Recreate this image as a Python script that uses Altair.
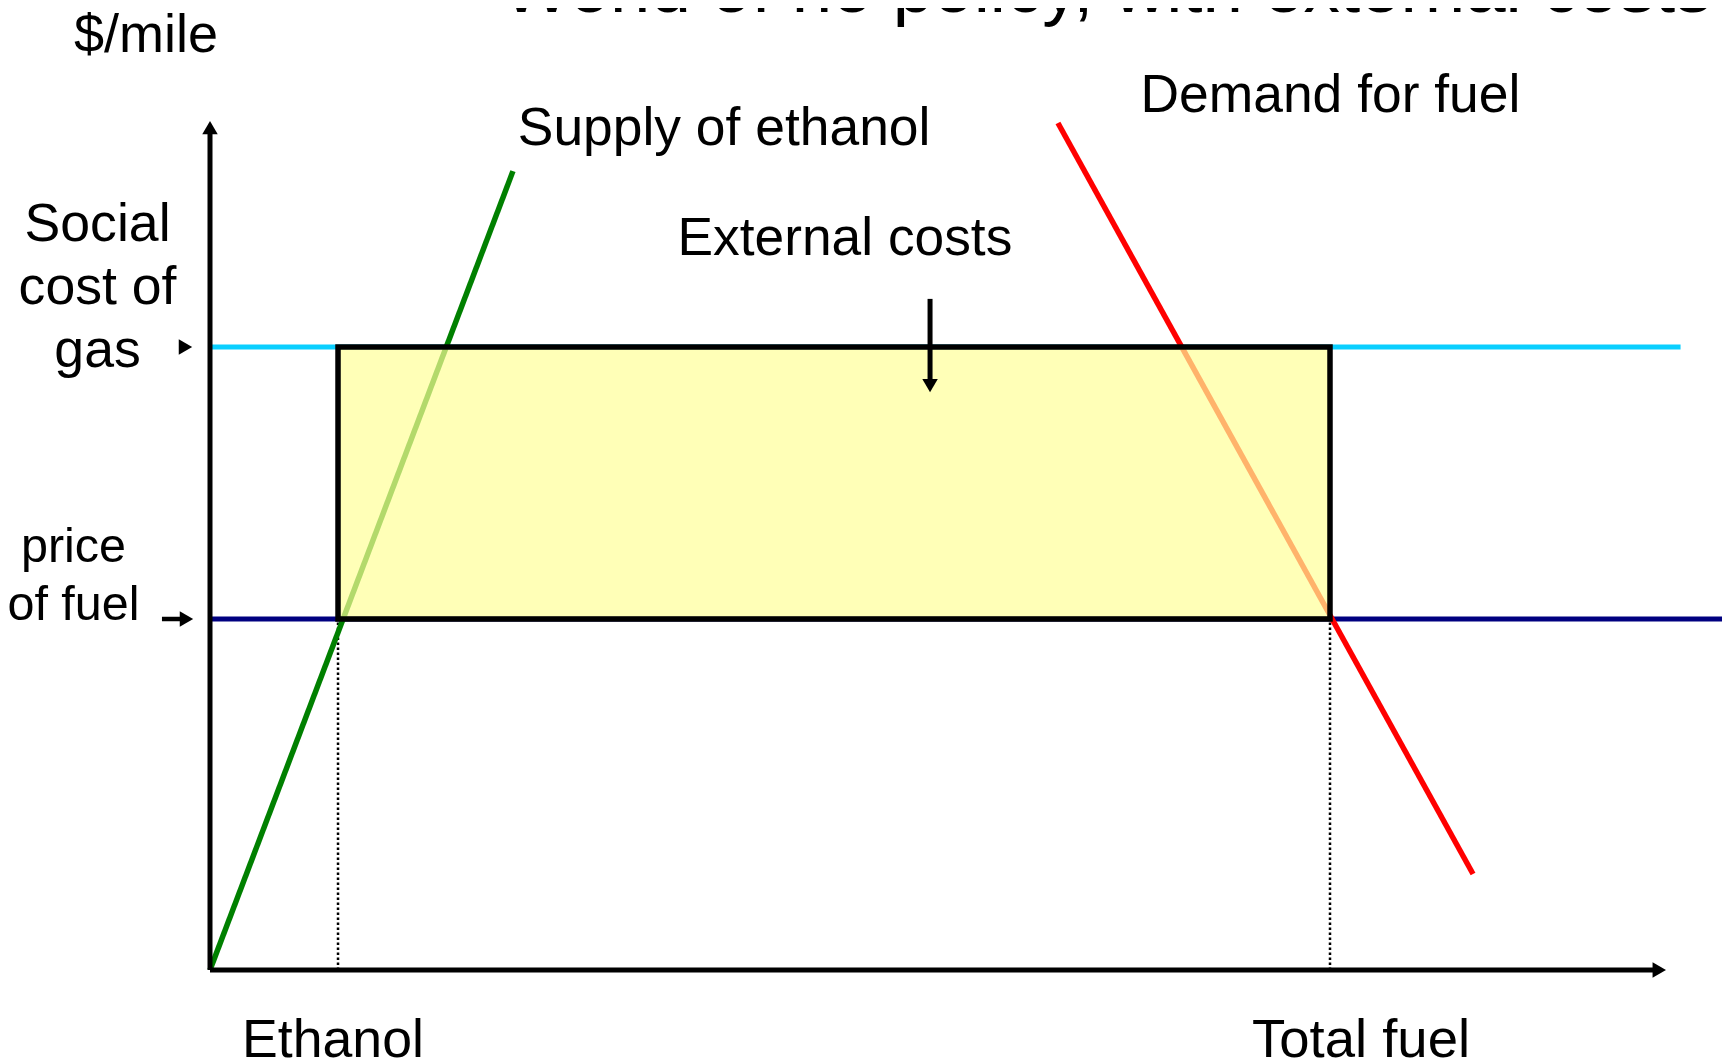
import altair as alt
import pandas as pd

# ---------------- data (in chart units) ----------------
# quantity units: total fuel = 100 ; price units: price of fuel = 1
ethanol_q = 11.43
total_q = 100.0
price_fuel = 1.0
social_cost = 1.775

supply_q = [0.0, 27.05]
supply_p = [0.0, 2.276]
demand_q = [75.71, 112.77]
demand_p = [2.413, 0.2735]

cyan_end_q = 131.3
navy_end_q = 140.0
y_axis_top = 2.40
x_axis_end = 129.4
ext_arrow_q = 64.29
ext_arrow_p = [1.912, 1.665]
price_arrow_q = [-4.29, -2.6]

label_text = ["$/mile", "Supply of ethanol", "Demand for fuel", "External costs",
              "Social", "cost of", "gas", "price", "of fuel", "Ethanol", "Total fuel",
              "World of no policy, with external costs"]
label_q = [-5.71, 27.48, 83.08, 56.69, -10.04, -10.04, -10.04, -12.19, -12.19, 10.98, 102.77, 26.1]
label_p = [2.615, 2.3504, 2.4444, 2.037, 2.0769, 1.8974, 1.7179, 1.1624, 0.9972, -0.2479, -0.2479, 2.7293]
label_size = [54, 53.4, 53.4, 53.3, 53.6, 53.6, 53.6, 48.5, 48.5, 53.6, 54.5, 72.7]
label_align = ["center", "left", "left", "center", "center", "center", "center",
               "center", "center", "center", "center", "left"]

# ---------------- scale setup ----------------
W, H = 1714, 1058
ORIGIN_X, ORIGIN_Y = 210, 970   # page position of the axes origin
PX_Q, PX_P = 11.2, 351.0        # pixels per unit
q_dom = [(8 - ORIGIN_X) / PX_Q, (8 + W - ORIGIN_X) / PX_Q]
p_dom = [(ORIGIN_Y - 8 - H) / PX_P, (ORIGIN_Y - 8) / PX_P]
xs = alt.Scale(domain=q_dom, nice=False, zero=False)
ys = alt.Scale(domain=p_dom, nice=False, zero=False)


def seg(q, q2, p, p2):
    return pd.DataFrame({"q": q, "q2": q2, "p": p, "p2": p2})


def rule(df, color, width, dash=None):
    kw = dict(color=color, strokeWidth=width)
    if dash:
        kw["strokeDash"] = dash
    return alt.Chart(df).mark_rule(**kw).encode(
        x=alt.X("q:Q", scale=xs, axis=None), x2="q2:Q",
        y=alt.Y("p:Q", scale=ys, axis=None), y2="p2:Q")


def arrowhead(q, p, shape):
    df = pd.DataFrame({"q": q, "p": p})
    return alt.Chart(df).mark_point(shape=shape, filled=True, size=240, color="black",
                                    opacity=1, strokeWidth=0).encode(
        x=alt.X("q:Q", scale=xs, axis=None), y=alt.Y("p:Q", scale=ys, axis=None))


cyan = rule(seg([0.0], [cyan_end_q], [social_cost], [social_cost]), "#0ACFFF", 5)
navy = rule(seg([0.0], [navy_end_q], [price_fuel], [price_fuel]), "#000080", 5)
dotted = rule(seg([ethanol_q, total_q], [ethanol_q, total_q], [0.0, 0.0],
                  [price_fuel, price_fuel]), "black", 2.5, [2.5, 2.5])
supply = rule(seg([supply_q[0]], [supply_q[1]], [supply_p[0]], [supply_p[1]]), "#008000", 5.5)
demand = rule(seg([demand_q[0]], [demand_q[1]], [demand_p[0]], [demand_p[1]]), "#FF0000", 5.5)

box_df = pd.DataFrame({"q": [ethanol_q], "q2": [total_q], "p": [price_fuel], "p2": [social_cost]})
box = alt.Chart(box_df).mark_rect(fill="#FFFF99", fillOpacity=0.7, stroke="black",
                                  strokeWidth=5.5, strokeOpacity=1).encode(
    x=alt.X("q:Q", scale=xs, axis=None), x2="q2:Q",
    y=alt.Y("p:Q", scale=ys, axis=None), y2="p2:Q")

ext_line = rule(seg([ext_arrow_q], [ext_arrow_q], [ext_arrow_p[0]], [ext_arrow_p[1]]), "black", 5)
ext_head = arrowhead([ext_arrow_q], [ext_arrow_p[1]], "triangle-down")

y_axis = rule(seg([0.0], [0.0], [0.0], [y_axis_top]), "black", 5)
y_head = arrowhead([0.0], [y_axis_top], "triangle-up")
x_axis = rule(seg([0.0], [x_axis_end], [0.0], [0.0]), "black", 5)
x_head = arrowhead([x_axis_end], [0.0], "triangle-right")

price_shaft = rule(seg([price_arrow_q[0]], [price_arrow_q[1]], [price_fuel], [price_fuel]), "black", 4.5)
side_heads = arrowhead([-2.19, -2.10], [social_cost, price_fuel], "triangle-right")

texts = []
for t, q, p, s, a in zip(label_text, label_q, label_p, label_size, label_align):
    df = pd.DataFrame({"q": [q], "p": [p], "t": [t]})
    texts.append(alt.Chart(df).mark_text(align=a, baseline="alphabetic", font="Liberation Sans",
                                         fontSize=s, color="black").encode(
        x=alt.X("q:Q", scale=xs, axis=None), y=alt.Y("p:Q", scale=ys, axis=None), text="t:N"))

chart = alt.layer(cyan, navy, dotted, supply, demand, box, ext_line, ext_head,
                  y_axis, y_head, x_axis, x_head, price_shaft, side_heads, *texts).properties(
    width=W, height=H, autosize=alt.AutoSizeParams(type="none"), padding=0,
    background="white").configure_view(strokeWidth=0)

chart.save("out.html", embed_options={"renderer": "svg", "actions": False})
